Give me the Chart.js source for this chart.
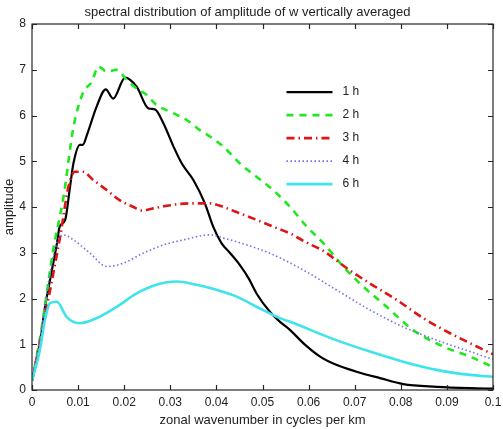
<!DOCTYPE html>
<html>
<head>
<meta charset="utf-8">
<script src="https://cdn.jsdelivr.net/npm/chart.js@4"></script>
<style>
  body { margin: 0; background: #fff; }
  canvas { display: block; }
</style>
</head>
<body>
<canvas id="spectrumChart" width="503" height="429"></canvas>
<script>
// tick values and labels
const xTickValues = [0, 0.01, 0.02, 0.03, 0.04, 0.05, 0.06, 0.07, 0.08, 0.09, 0.1];
const xTickLabels = ['0', '0.01', '0.02', '0.03', '0.04', '0.05', '0.06', '0.07', '0.08', '0.09', '0.1'];
const yTickValues = [0, 1, 2, 3, 4, 5, 6, 7, 8];

const seriesNames = ['1 h', '2 h', '3 h', '4 h', '6 h'];

// 1 h
const x1h = [0, 0.0017, 0.0028, 0.0039, 0.0054, 0.006, 0.0072, 0.0082, 0.009, 0.0104, 0.011, 0.012, 0.014, 0.016, 0.0176, 0.0202, 0.0227, 0.0252, 0.0267, 0.0285, 0.0307, 0.0325, 0.035, 0.0375, 0.0393, 0.0411, 0.043, 0.0451, 0.047, 0.0487, 0.0516, 0.0538, 0.056, 0.0589, 0.0625, 0.066, 0.0704, 0.0755, 0.0805, 0.0878, 0.095, 0.1];
const y1h = [0.2, 1.0, 1.8, 2.4, 3.2, 3.57, 3.72, 4.4, 4.96, 5.36, 5.36, 5.6, 6.19, 6.57, 6.37, 6.83, 6.63, 6.16, 6.13, 5.83, 5.32, 4.95, 4.59, 4.08, 3.57, 3.21, 2.99, 2.73, 2.44, 2.11, 1.71, 1.49, 1.31, 1.02, 0.73, 0.55, 0.40, 0.26, 0.13, 0.07, 0.04, 0.03];

// 2 h
const x2h = [0, 0.002, 0.0046, 0.0068, 0.009, 0.011, 0.013, 0.0144, 0.0162, 0.0184, 0.0205, 0.0227, 0.0249, 0.027, 0.03, 0.0336, 0.0364, 0.0386, 0.0415, 0.0451, 0.0487, 0.0523, 0.056, 0.0596, 0.0632, 0.0675, 0.0711, 0.0769, 0.0827, 0.0892, 0.095, 0.1];
const y2h = [0.2, 1.3, 3.06, 4.2, 5.75, 6.48, 6.74, 7.07, 6.96, 7.0, 6.78, 6.59, 6.45, 6.23, 6.08, 5.90, 5.68, 5.54, 5.32, 4.95, 4.66, 4.37, 4.0, 3.57, 3.21, 2.70, 2.33, 1.82, 1.31, 0.95, 0.73, 0.5];

// 3 h
const x3h = [0, 0.002, 0.0061, 0.0079, 0.0093, 0.011, 0.0133, 0.0162, 0.019, 0.022, 0.024, 0.0263, 0.03, 0.0343, 0.0386, 0.0415, 0.0451, 0.0487, 0.0523, 0.056, 0.0596, 0.0632, 0.0683, 0.0733, 0.0791, 0.0849, 0.0907, 0.0965, 0.1];
const y3h = [0.2, 1.2, 3.35, 4.44, 4.77, 4.77, 4.59, 4.37, 4.15, 4.0, 3.92, 3.97, 4.04, 4.08, 4.08, 4.0, 3.86, 3.72, 3.57, 3.42, 3.22, 3.04, 2.66, 2.33, 1.97, 1.57, 1.24, 0.95, 0.78];

// 4 h
const x4h = [0, 0.002, 0.004, 0.0055, 0.0068, 0.009, 0.0126, 0.0162, 0.0198, 0.0241, 0.0285, 0.0328, 0.0386, 0.0415, 0.0451, 0.0487, 0.0516, 0.0589, 0.066, 0.0733, 0.0805, 0.0878, 0.095, 0.1];
const y4h = [0.2, 1.3, 2.6, 3.25, 3.39, 3.28, 2.99, 2.70, 2.77, 2.99, 3.17, 3.28, 3.39, 3.32, 3.22, 3.1, 2.99, 2.62, 2.19, 1.75, 1.38, 1.09, 0.84, 0.67];

// 6 h
const x6h = [0, 0.0017, 0.0028, 0.0039, 0.0054, 0.0075, 0.0104, 0.014, 0.0184, 0.0227, 0.027, 0.0314, 0.0357, 0.04, 0.0444, 0.0487, 0.0538, 0.056, 0.066, 0.0733, 0.0805, 0.0878, 0.095, 0.1];
const y6h = [0.2, 0.87, 1.53, 1.9, 1.93, 1.60, 1.46, 1.57, 1.82, 2.11, 2.30, 2.37, 2.30, 2.19, 2.04, 1.82, 1.57, 1.49, 1.09, 0.84, 0.62, 0.44, 0.33, 0.29];

function toPoints(xs, ys) {
    return xs.map((x, i) => ({ x: x, y: ys[i] }));
}

// box with inward ticks on all four sides
const boxTicks = {
    id: 'boxTicks',
    afterDraw(chart) {
        const ctx = chart.ctx;
        const a = chart.chartArea;
        const xs = chart.scales.x, ys = chart.scales.y;
        const len = 5;
        ctx.save();
        ctx.strokeStyle = '#262626';
        ctx.lineWidth = 1.2;
        ctx.strokeRect(a.left, a.top, a.right - a.left, a.bottom - a.top);
        ctx.beginPath();
        xTickValues.forEach(v => {
            const px = Math.round(xs.getPixelForValue(v)) + 0.5;
            ctx.moveTo(px, a.bottom); ctx.lineTo(px, a.bottom - len);
            ctx.moveTo(px, a.top); ctx.lineTo(px, a.top + len);
        });
        yTickValues.forEach(v => {
            const py = Math.round(ys.getPixelForValue(v)) + 0.5;
            ctx.moveTo(a.left, py); ctx.lineTo(a.left + len, py);
            ctx.moveTo(a.right, py); ctx.lineTo(a.right - len, py);
        });
        ctx.stroke();
        ctx.restore();
    }
};

// legend inside the axes, no frame
const insideLegend = {
    id: 'insideLegend',
    afterDatasetsDraw(chart) {
        const ctx = chart.ctx;
        const a = chart.chartArea;
        const x0 = a.left + (a.right - a.left) * 0.552;
        const y0 = a.top + (a.bottom - a.top) * 0.186;
        const rowH = 23;
        ctx.save();
        ctx.font = '12px "Liberation Sans", Arial, sans-serif';
        ctx.textBaseline = 'middle';
        ctx.fillStyle = '#222';
        chart.data.datasets.forEach((ds, i) => {
            const y = y0 + i * rowH;
            ctx.strokeStyle = ds.borderColor;
            ctx.lineWidth = ds.borderWidth;
            ctx.setLineDash(ds.borderDash || []);
            ctx.beginPath();
            ctx.moveTo(x0, y);
            ctx.lineTo(x0 + 46, y);
            ctx.stroke();
            ctx.setLineDash([]);
            ctx.fillText(ds.label, x0 + 56, y);
        });
        ctx.restore();
    }
};

const ctx = document.getElementById('spectrumChart');
new Chart(ctx, {
    type: 'line',
    data: {
        datasets: [{
            label: seriesNames[0],
            data: toPoints(x1h, y1h),
            borderColor: '#000000',
            borderWidth: 2.2,
            order: 5
        }, {
            label: seriesNames[1],
            data: toPoints(x2h, y2h),
            borderColor: '#1ee81e',
            borderWidth: 2.6,
            borderDash: [7, 6],
            order: 4
        }, {
            label: seriesNames[2],
            data: toPoints(x3h, y3h),
            borderColor: '#dd1515',
            borderWidth: 2.6,
            borderDash: [8, 4, 1.5, 4],
            order: 3
        }, {
            label: seriesNames[3],
            data: toPoints(x4h, y4h),
            borderColor: '#6f6fe8',
            borderWidth: 1.6,
            borderDash: [1.5, 2.5],
            order: 2
        }, {
            label: seriesNames[4],
            data: toPoints(x6h, y6h),
            borderColor: '#3ee4ec',
            borderWidth: 2.6,
            order: 1
        }]
    },
    options: {
        responsive: false,
        animation: false,
        layout: { padding: { top: 0, right: 10, left: 2, bottom: 0 } },
        elements: {
            point: { radius: 0 },
            line: { cubicInterpolationMode: 'monotone', fill: false }
        },
        scales: {
            x: {
                type: 'linear',
                min: 0,
                max: 0.1,
                afterBuildTicks: s => { s.ticks = xTickValues.map(v => ({ value: v })); },
                afterFit: s => { s.height = 39; s.paddingRight = 0; s.paddingLeft = 0; },
                grid: { display: false, drawTicks: false },
                border: { display: false },
                ticks: {
                    padding: 5,
                    color: '#222',
                    font: { family: '"Liberation Sans", Arial, sans-serif', size: 12 },
                    callback: (v, i) => xTickLabels[i]
                },
                title: {
                    display: true,
                    text: 'zonal wavenumber in cycles per km',
                    color: '#222',
                    font: { family: '"Liberation Sans", Arial, sans-serif', size: 13 },
                    padding: { top: 0, bottom: 1 }
                }
            },
            y: {
                min: 0,
                max: 8,
                afterBuildTicks: s => { s.ticks = yTickValues.map(v => ({ value: v })); },
                afterFit: s => { s.width = 30; s.paddingTop = 0; s.paddingBottom = 0; },
                grid: { display: false, drawTicks: false },
                border: { display: false },
                ticks: {
                    padding: 6,
                    color: '#222',
                    font: { family: '"Liberation Sans", Arial, sans-serif', size: 12 }
                },
                title: {
                    display: true,
                    text: 'amplitude',
                    color: '#222',
                    font: { family: '"Liberation Sans", Arial, sans-serif', size: 13 },
                    padding: { top: 0, bottom: 2 }
                }
            }
        },
        plugins: {
            legend: { display: false },
            tooltip: { enabled: false },
            title: {
                display: true,
                text: 'spectral distribution of amplitude of w vertically averaged',
                color: '#222',
                font: { family: '"Liberation Sans", Arial, sans-serif', size: 13, weight: 'normal' },
                padding: { top: 5, bottom: 3.4 }
            }
        }
    },
    plugins: [boxTicks, insideLegend]
});
</script>
</body>
</html>
